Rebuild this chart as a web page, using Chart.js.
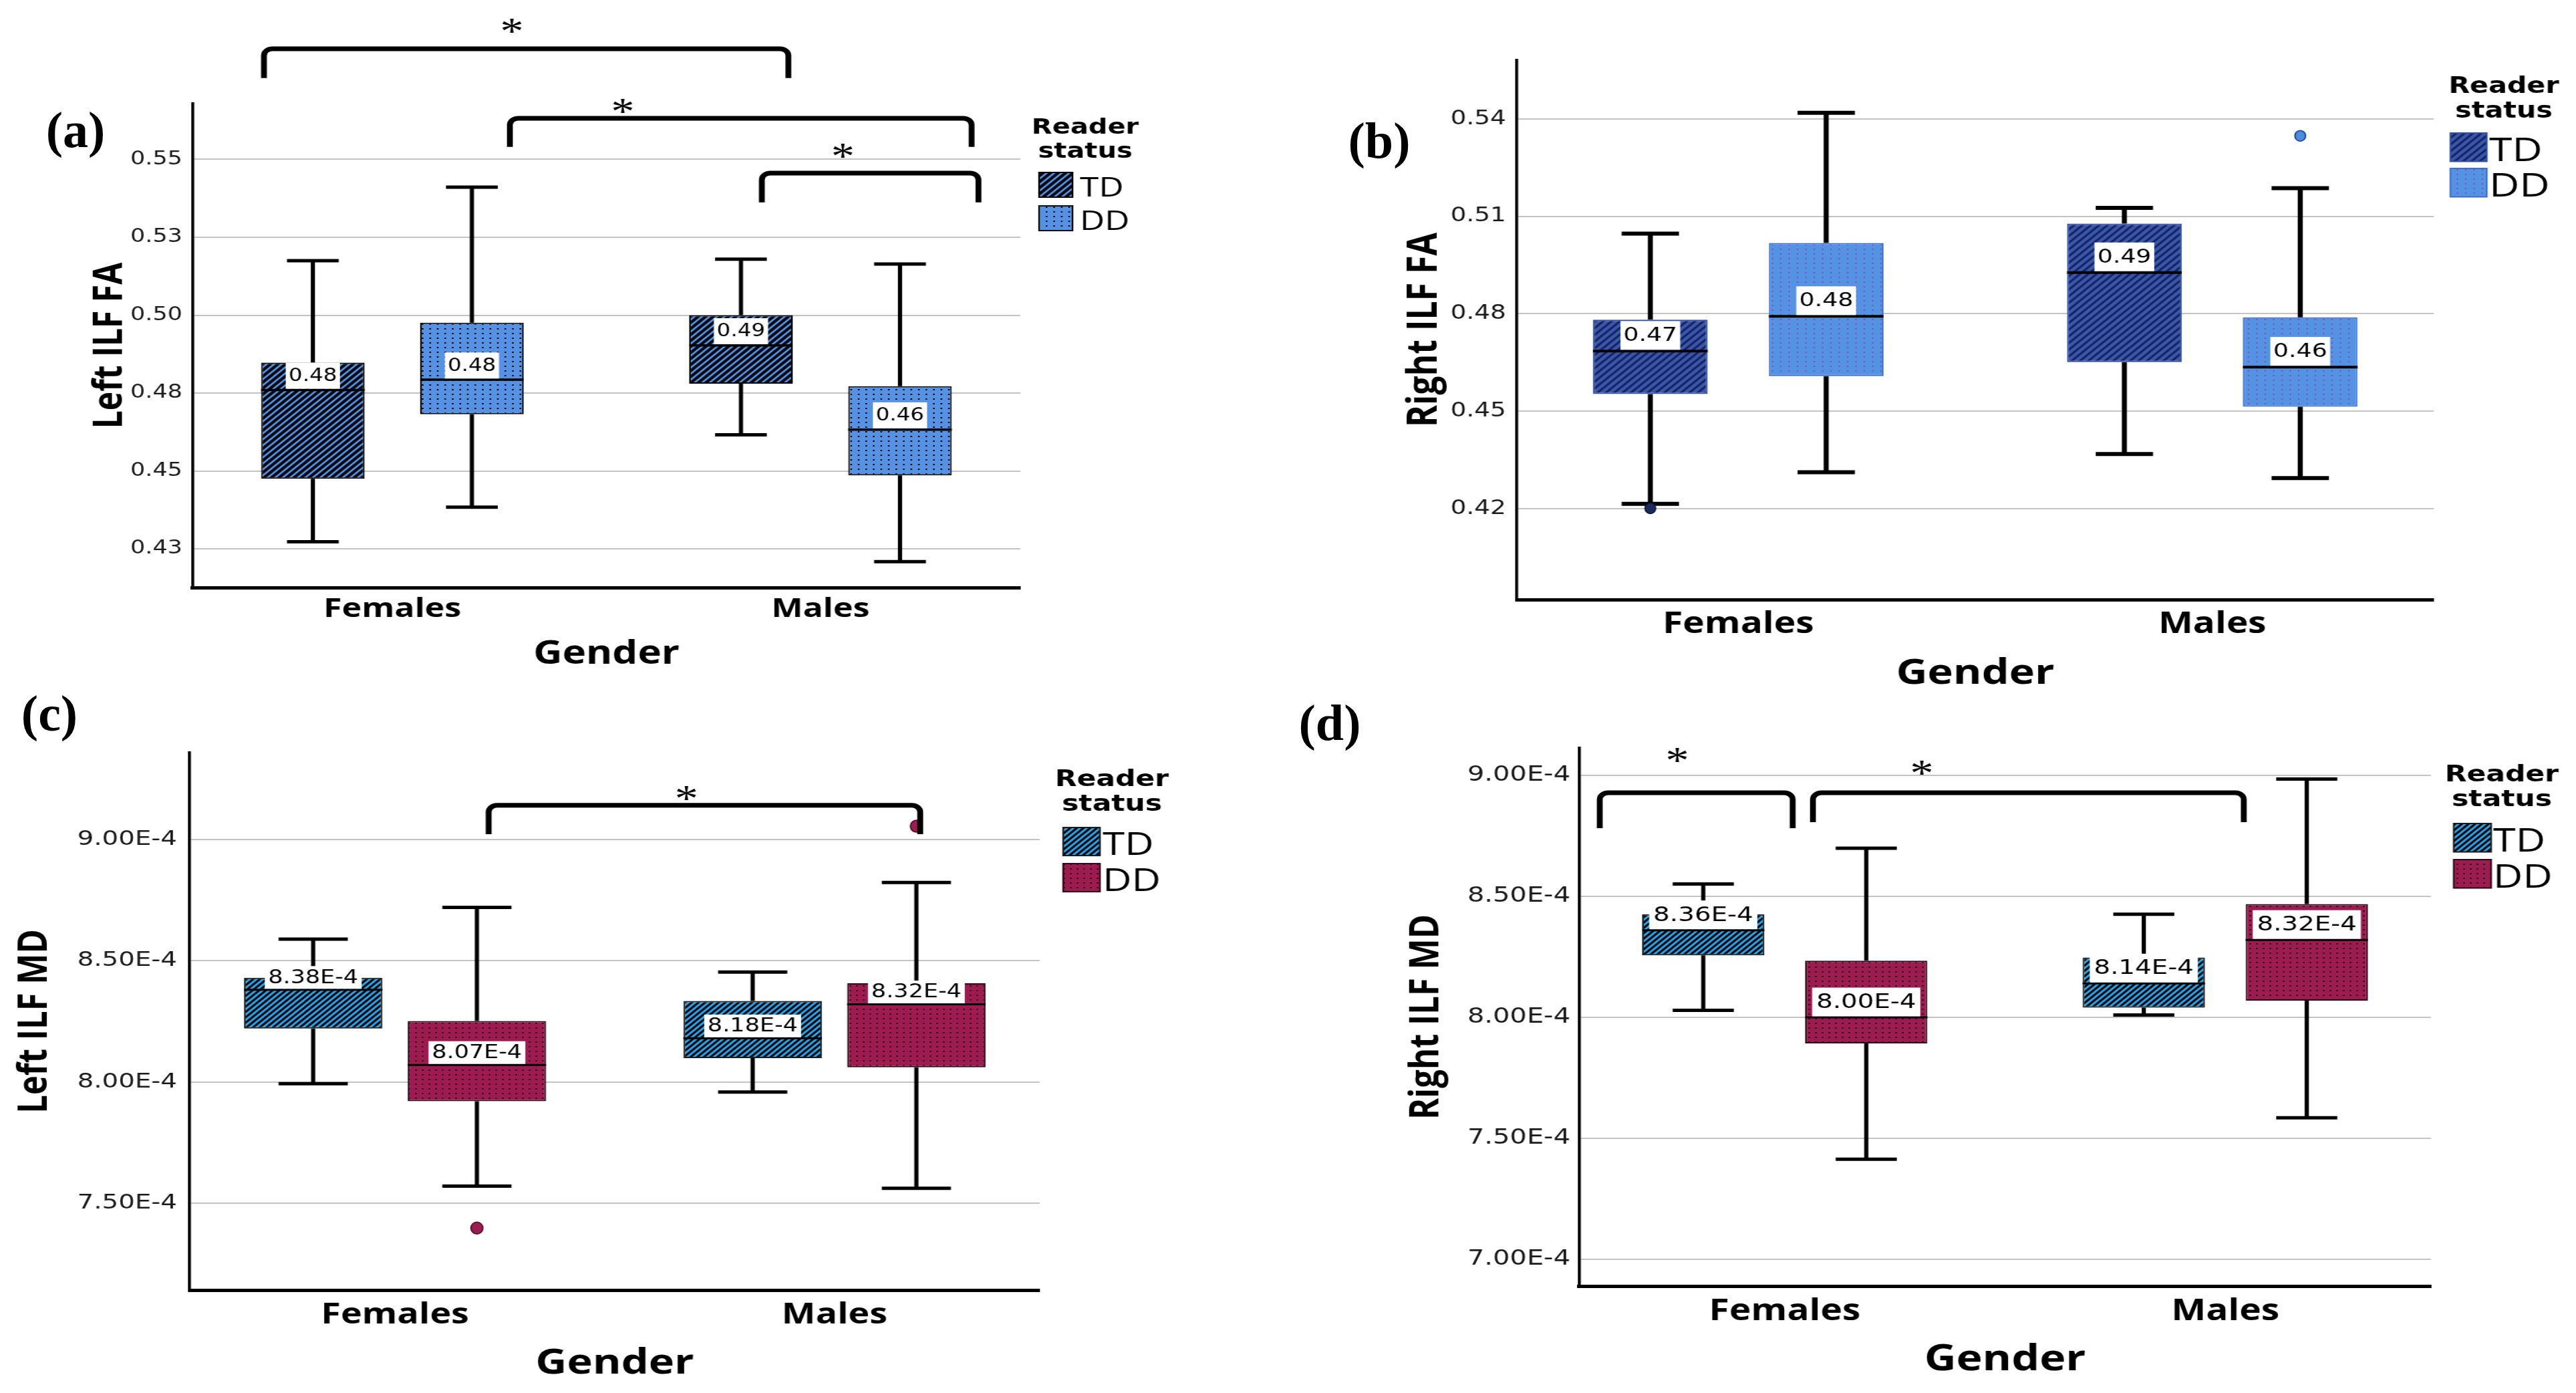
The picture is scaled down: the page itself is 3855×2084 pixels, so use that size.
<!DOCTYPE html>
<html>
<head>
<meta charset="utf-8">
<title>ILF FA and MD by gender and reader status</title>
<script src="https://cdn.jsdelivr.net/npm/chart.js@4.4.1/dist/chart.umd.min.js"></script>
<style>
  html, body { margin: 0; padding: 0; background: #fff; }
  body { position: relative; width: 3855px; height: 2084px; overflow: hidden; }
  canvas { position: absolute; transform-origin: 0 0; }
  .tag { position: absolute; font: bold 76px/76px 'Liberation Serif', 'DejaVu Serif', serif; color: #000; transform: translateX(-50%); white-space: nowrap; }
</style>
</head>
<body>
<canvas id="chartA"></canvas>
<canvas id="chartB"></canvas>
<canvas id="chartC"></canvas>
<canvas id="chartD"></canvas>
<div class="tag" style="left:113px;top:156px">(a)</div>
<div class="tag" style="left:2064px;top:172px">(b)</div>
<div class="tag" style="left:74px;top:1029px">(c)</div>
<div class="tag" style="left:1990px;top:1043px">(d)</div>
<script>
// ---- data ----
const genders = ['Females', 'Males'];
const readerStatus = ['TD', 'DD'];
const legendTitle = ['Reader', 'status'];

// box stats per gender: [lower whisker, Q1, median, Q3, upper whisker]
const leftFaTD = [[0.4273, 0.4475, 0.4760, 0.4848, 0.5175], [0.4616, 0.4780, 0.4903, 0.5000, 0.5180]];
const leftFaDD = [[0.4384, 0.4682, 0.4793, 0.4976, 0.5411], [0.4209, 0.4486, 0.4633, 0.4772, 0.5164]];
const leftFaOutTD = [[], []];
const leftFaOutDD = [[], []];
const leftFaTicks = [0.425, 0.45, 0.475, 0.5, 0.525, 0.55];
const leftFaTickLabels = ['0.43', '0.45', '0.48', '0.50', '0.53', '0.55'];

const rightFaTD = [[0.4215, 0.4553, 0.4685, 0.4782, 0.5047], [0.4368, 0.4651, 0.4927, 0.5078, 0.5126]];
const rightFaDD = [[0.4312, 0.4608, 0.4792, 0.5018, 0.5419], [0.4294, 0.4514, 0.4636, 0.4789, 0.5187]];
const rightFaOutTD = [[0.4201], []];
const rightFaOutDD = [[], [0.5348]];
const rightFaTicks = [0.42, 0.45, 0.48, 0.51, 0.54];
const rightFaTickLabels = ['0.42', '0.45', '0.48', '0.51', '0.54'];

const leftMdTD = [[7.993e-4, 8.220e-4, 8.38e-4, 8.430e-4, 8.589e-4], [7.958e-4, 8.098e-4, 8.18e-4, 8.334e-4, 8.453e-4]];
const leftMdDD = [[7.570e-4, 7.920e-4, 8.07e-4, 8.251e-4, 8.720e-4], [7.561e-4, 8.060e-4, 8.32e-4, 8.407e-4, 8.823e-4]];
const leftMdOutTD = [[], []];
const leftMdOutDD = [[7.397e-4], [9.055e-4]];
const leftMdTicks = [7.5e-4, 8.0e-4, 8.5e-4, 9.0e-4];
const leftMdTickLabels = ['7.50E-4', '8.00E-4', '8.50E-4', '9.00E-4'];

const rightMdTD = [[8.029e-4, 8.256e-4, 8.36e-4, 8.426e-4, 8.551e-4], [8.010e-4, 8.040e-4, 8.14e-4, 8.247e-4, 8.426e-4]];
const rightMdDD = [[7.414e-4, 7.892e-4, 8.00e-4, 8.234e-4, 8.699e-4], [7.585e-4, 8.069e-4, 8.32e-4, 8.468e-4, 8.985e-4]];
const rightMdOutTD = [[], []];
const rightMdOutDD = [[], []];
const rightMdTicks = [7.0e-4, 7.5e-4, 8.0e-4, 8.5e-4, 9.0e-4];
const rightMdTickLabels = ['7.00E-4', '7.50E-4', '8.00E-4', '8.50E-4', '9.00E-4'];

// the pasted SPSS charts are stretched sideways in the figure
const STRETCH = 1.25;
// SPSS puts the two clusters at ~24% and ~76% of the axis instead of 25/75
const CAT_START = -0.467;
const CAT_RANGE = 1.934;

const BOLD = "'Open Sans', 'DejaVu Sans', sans-serif";
const PLAIN = "'DejaVu Sans', 'Open Sans', sans-serif";

const fmtFa = v => v.toFixed(2);
const fmtMd = v => v.toExponential(2).toUpperCase();

function stripePattern(ctx, bg, fg, size, width) {
  const c = document.createElement('canvas');
  c.width = size; c.height = size;
  const g = c.getContext('2d');
  g.fillStyle = bg;
  g.fillRect(0, 0, size, size);
  g.strokeStyle = fg;
  g.lineWidth = width;
  g.beginPath();
  g.moveTo(0, size); g.lineTo(size, 0);
  g.moveTo(-size / 2, size / 2); g.lineTo(size / 2, -size / 2);
  g.moveTo(size / 2, size * 1.5); g.lineTo(size * 1.5, size / 2);
  g.stroke();
  return ctx.createPattern(c, 'repeat');
}

function dotPattern(ctx, bg, fg, w, h, d) {
  const c = document.createElement('canvas');
  c.width = w; c.height = h;
  const g = c.getContext('2d');
  g.fillStyle = bg;
  g.fillRect(0, 0, w, h);
  g.fillStyle = fg;
  g.fillRect(1, 1, d, d);
  return ctx.createPattern(c, 'repeat');
}

// whiskers, medians, outliers, median labels, significance brackets and legend
function boxExtras(p) {
  const s = STRETCH;
  const px = X => (X - p.box.left) / s;   // page x -> canvas x
  const py = Y => Y - p.box.top;          // page y -> canvas y
  return {
    id: 'boxExtras',
    beforeDatasetsDraw(chart) {
      const { ctx } = chart;
      const ys = chart.scales.y;
      ctx.save();
      ctx.strokeStyle = '#000';
      ctx.lineWidth = p.whiskerWidth;
      chart.data.datasets.forEach((ds, i) => {
        chart.getDatasetMeta(i).data.forEach((bar, j) => {
          const st = ds.stats[j];
          const cap = bar.width / 4;
          const yMin = ys.getPixelForValue(st[0]);
          const yQ1 = ys.getPixelForValue(st[1]);
          const yQ3 = ys.getPixelForValue(st[3]);
          const yMax = ys.getPixelForValue(st[4]);
          ctx.beginPath();
          ctx.moveTo(bar.x, yQ3); ctx.lineTo(bar.x, yMax);
          ctx.moveTo(bar.x, yQ1); ctx.lineTo(bar.x, yMin);
          ctx.moveTo(bar.x - cap, yMax); ctx.lineTo(bar.x + cap, yMax);
          ctx.moveTo(bar.x - cap, yMin); ctx.lineTo(bar.x + cap, yMin);
          ctx.stroke();
        });
      });
      ctx.restore();
    },
    afterDatasetsDraw(chart) {
      const { ctx } = chart;
      const xs = chart.scales.x;
      const ys = chart.scales.y;
      ctx.save();
      chart.data.datasets.forEach((ds, i) => {
        chart.getDatasetMeta(i).data.forEach((bar, j) => {
          const yMed = ys.getPixelForValue(ds.stats[j][2]);
          ctx.strokeStyle = '#000';
          ctx.lineWidth = p.medianWidth;
          ctx.beginPath();
          ctx.moveTo(bar.x - bar.width / 2, yMed);
          ctx.lineTo(bar.x + bar.width / 2, yMed);
          ctx.stroke();
          ds.outliers[j].forEach(v => {
            ctx.beginPath();
            ctx.ellipse(bar.x, ys.getPixelForValue(v), p.outlierR / s, p.outlierR, 0, 0, Math.PI * 2);
            ctx.fillStyle = ds.outlierColor;
            ctx.fill();
            ctx.lineWidth = 1.5;
            ctx.strokeStyle = ds.outlierBorder;
            ctx.stroke();
          });
        });
      });

      // white median labels sitting on the median line
      ctx.font = `${p.labelFont}px ${PLAIN}`;
      ctx.textAlign = 'center';
      ctx.textBaseline = 'middle';
      chart.data.datasets.forEach((ds, i) => {
        chart.getDatasetMeta(i).data.forEach((bar, j) => {
          const med = ds.stats[j][2];
          const text = p.fmt(med);
          const yBottom = ys.getPixelForValue(med) - p.medianWidth / 2;
          const w = ctx.measureText(text).width + 2 * p.labelPadX;
          ctx.fillStyle = '#fff';
          ctx.fillRect(bar.x - w / 2, yBottom - p.labelH, w, p.labelH);
          ctx.fillStyle = '#000';
          ctx.fillText(text, bar.x, yBottom - p.labelH / 2 + 1);
        });
      });

      // significance brackets
      ctx.strokeStyle = '#000';
      ctx.lineWidth = 7;
      ctx.lineJoin = 'round';
      p.brackets.forEach(b => {
        const x1 = xs.getPixelForValue(b.from);
        const x2 = xs.getPixelForValue(b.to);
        const yT = ys.getPixelForValue(b.top);
        const yR = ys.getPixelForValue(b.rightEnd);
        ctx.beginPath();
        ctx.moveTo(x1, ys.getPixelForValue(b.leftEnd));
        ctx.arcTo(x1, yT, x2, yT, 10);
        ctx.arcTo(x2, yT, x2, yR, 10);
        ctx.lineTo(x2, yR);
        ctx.stroke();
      });
      ctx.fillStyle = '#000';
      ctx.font = "56px 'Liberation Serif', 'DejaVu Serif', serif";
      ctx.textAlign = 'center';
      ctx.textBaseline = 'alphabetic';
      p.stars.forEach(st => {
        ctx.fillText('*', xs.getPixelForValue(st.x), ys.getPixelForValue(st.y) + 0.47 * 56);
      });
      ctx.restore();
    },
    afterDraw(chart) {
      // "Reader status" legend, drawn with the datasets' own fills
      const { ctx } = chart;
      const lg = p.legend;
      ctx.save();
      ctx.fillStyle = '#000';
      ctx.textAlign = 'center';
      ctx.textBaseline = 'alphabetic';
      ctx.font = `bold ${lg.titleSize}px ${PLAIN}`;
      legendTitle.forEach((line, k) => ctx.fillText(line, px(lg.titleX), py(lg.titleBase[k])));
      ctx.textAlign = 'left';
      ctx.font = `${lg.textSize}px ${BOLD}`;
      chart.data.datasets.forEach((ds, i) => {
        const x = px(lg.boxLeft);
        const y = py(lg.boxTops[i]);
        const w = lg.boxW / s;
        ctx.fillStyle = ds.backgroundColor;
        ctx.fillRect(x, y, w, lg.boxH);
        ctx.lineWidth = 2;
        ctx.strokeStyle = ds.borderColor;
        ctx.strokeRect(x, y, w, lg.boxH);
        ctx.fillStyle = '#000';
        ctx.fillText(ds.label, px(lg.textX), y + lg.boxH / 2 + 3 + 0.357 * lg.textSize);
      });
      ctx.restore();
    }
  };
}

function buildPanel(p) {
  const s = STRETCH;
  const canvas = document.getElementById(p.id);
  const ctx = canvas.getContext('2d');
  const wCu = Math.round((p.box.right - p.box.left) / s);
  const hCu = p.box.bottom - p.box.top;
  canvas.width = wCu;
  canvas.height = hCu;
  canvas.style.left = p.box.left + 'px';
  canvas.style.top = p.box.top + 'px';
  canvas.style.transform = `scaleX(${s})`;

  const yAxisW = (p.area.left - p.box.left) / s;
  const xAxisH = p.box.bottom - p.area.bottom;
  const yTitlePad = (p.yTitleX - p.box.left) / s - p.yTitleSize * 0.6;
  const xTickPad = p.xTickCapTop - p.area.bottom - 0.17 * p.xTickSize;
  const xTitlePad = p.box.bottom - p.xTitleY - p.xTitleSize * 0.6;
  const padRight = wCu - (p.area.right - p.box.left) / s;

  const tdFill = p.tdPattern(ctx);
  const ddFill = p.ddPattern(ctx);

  const series = [
    { label: readerStatus[0], stats: p.td, outliers: p.tdOut, fill: tdFill, border: p.tdBorder, outlierColor: p.tdOutlier, outlierBorder: p.tdOutlierBorder },
    { label: readerStatus[1], stats: p.dd, outliers: p.ddOut, fill: ddFill, border: p.ddBorder, outlierColor: p.ddOutlier, outlierBorder: p.ddOutlierBorder }
  ];

  new Chart(canvas, {
    type: 'bar',
    data: {
      labels: genders,
      datasets: series.map(d => ({
        label: d.label,
        data: d.stats.map(st => [st[1], st[3]]),
        stats: d.stats,
        outliers: d.outliers,
        outlierColor: d.outlierColor,
        outlierBorder: d.outlierBorder,
        backgroundColor: d.fill,
        borderColor: d.border,
        borderWidth: 2,
        borderSkipped: false,
        categoryPercentage: p.catPct,
        barPercentage: p.barPct
      }))
    },
    options: {
      responsive: false,
      animation: false,
      devicePixelRatio: 1,
      events: [],
      layout: { padding: { top: p.area.top - p.box.top, right: padRight, bottom: 0, left: 0 } },
      scales: {
        x: {
          type: 'category',
          offset: true,
          afterBuildTicks: scale => {
            scale._startValue = CAT_START;
            scale._valueRange = CAT_RANGE;
          },
          afterFit: scale => { scale.height = xAxisH; },
          grid: { display: false, drawTicks: false },
          border: { display: true, color: '#000', width: 5 },
          ticks: { padding: xTickPad, color: '#000', font: { family: BOLD, weight: 'bold', size: p.xTickSize } },
          title: {
            display: true, text: 'Gender', color: '#000',
            font: { family: BOLD, weight: 'bold', size: p.xTitleSize },
            padding: { top: 0, bottom: xTitlePad }
          }
        },
        y: {
          type: 'linear',
          min: p.yMin,
          max: p.yMax,
          afterBuildTicks: scale => { scale.ticks = p.ticks.map(v => ({ value: v })); },
          afterFit: scale => { scale.width = yAxisW; },
          grid: { color: '#c4c4c4', lineWidth: 2, drawTicks: false },
          border: { display: true, color: '#000', width: 3.5 },
          ticks: {
            autoSkip: false,
            padding: p.tickGap / s,
            color: '#1a1a1a',
            font: { family: PLAIN, size: p.tickSize },
            callback: (v, i) => p.tickLabels[i]
          },
          title: {
            display: true, text: p.yTitle, color: '#000',
            font: { family: BOLD, weight: 'bold', size: p.yTitleSize },
            padding: { top: yTitlePad, bottom: 0 }
          }
        }
      },
      plugins: {
        tooltip: { enabled: false },
        legend: { display: false }
      }
    },
    plugins: [boxExtras(p)]
  });
}

// ---- panels (positions in page pixels) ----
const panels = [
  {
    id: 'chartA',
    box: { left: 90, top: 0, right: 1720, bottom: 1035 },
    area: { left: 288, right: 1527, top: 155, bottom: 879 },
    yMin: 0.4126, yMax: 0.5679,
    td: leftFaTD, dd: leftFaDD, tdOut: leftFaOutTD, ddOut: leftFaOutDD,
    ticks: leftFaTicks, tickLabels: leftFaTickLabels,
    yTitle: 'Left ILF FA', yTitleSize: 48, yTitleX: 166,
    tickSize: 28, tickGap: 15,
    xTickSize: 40, xTickCapTop: 894,
    xTitleSize: 48, xTitleY: 979,
    catPct: 0.743, barPct: 0.651,
    tdPattern: c => stripePattern(c, '#06070d', '#5592e4', 9, 2.6),
    ddPattern: c => dotPattern(c, '#5592e3', '#000', 9, 7, 2),
    tdBorder: '#000', ddBorder: '#111',
    tdOutlier: '#0d1b3a', tdOutlierBorder: '#000', ddOutlier: '#5592e3', ddOutlierBorder: '#1d3c7a',
    whiskerWidth: 5, medianWidth: 3.5, outlierR: 8,
    labelFont: 26, labelPadX: 3.5, labelH: 39, fmt: fmtFa,
    legend: { titleSize: 32, titleX: 1624, titleBase: [200, 236], boxLeft: 1555, boxW: 50, boxH: 37, boxTops: [258, 308], textX: 1616, textSize: 41 },
    brackets: [
      { from: -0.300, to: 0.925, top: 0.5855, leftEnd: 0.5761, rightEnd: 0.5761 },
      { from: 0.2745, to: 1.353, top: 0.5632, leftEnd: 0.5540, rightEnd: 0.5540 },
      { from: 0.863, to: 1.369, top: 0.5456, leftEnd: 0.5362, rightEnd: 0.5362 }
    ],
    stars: [{ x: 0.279, y: 0.5926 }, { x: 0.538, y: 0.5668 }, { x: 1.052, y: 0.5525 }]
  },
  {
    id: 'chartB',
    box: { left: 2075, top: 0, right: 3852, bottom: 1055 },
    area: { left: 2270, right: 3642, top: 90, bottom: 897 },
    yMin: 0.392, yMax: 0.5581,
    td: rightFaTD, dd: rightFaDD, tdOut: rightFaOutTD, ddOut: rightFaOutDD,
    ticks: rightFaTicks, tickLabels: rightFaTickLabels,
    yTitle: 'Right ILF FA', yTitleSize: 50, yTitleX: 2132,
    tickSize: 30, tickGap: 16,
    xTickSize: 44, xTickCapTop: 916,
    xTitleSize: 52, xTitleY: 1008,
    catPct: 0.742, barPct: 0.652,
    tdPattern: c => stripePattern(c, '#3c57a6', '#12246a', 10, 3),
    ddPattern: c => dotPattern(c, '#5592e3', '#6a5fb5', 10, 7, 2),
    tdBorder: '#34509e', ddBorder: '#3d6fcf',
    tdOutlier: '#1c2a5c', tdOutlierBorder: '#0b1230', ddOutlier: '#4a8de0', ddOutlierBorder: '#1c3a80',
    whiskerWidth: 6, medianWidth: 4, outlierR: 8,
    labelFont: 29, labelPadX: 3.5, labelH: 43, fmt: fmtFa,
    legend: { titleSize: 33, titleX: 3747, titleBase: [139, 175.5], boxLeft: 3667, boxW: 54.5, boxH: 42.5, boxTops: [199, 252], textX: 3725, textSize: 50 },
    brackets: [],
    stars: []
  },
  {
    id: 'chartC',
    box: { left: 0, top: 1060, right: 1765, bottom: 2084 },
    area: { left: 284, right: 1556, top: 1126, bottom: 1930 },
    yMin: 7.1412e-4, yMax: 9.3585e-4,
    td: leftMdTD, dd: leftMdDD, tdOut: leftMdOutTD, ddOut: leftMdOutDD,
    ticks: leftMdTicks, tickLabels: leftMdTickLabels,
    yTitle: 'Left ILF MD', yTitleSize: 49, yTitleX: 53,
    tickSize: 31, tickGap: 19,
    xTickSize: 43, xTickCapTop: 1949,
    xTitleSize: 52, xTitleY: 2040,
    catPct: 0.745, barPct: 0.845,
    tdPattern: c => stripePattern(c, '#040608', '#2ba4ea', 8, 2.8),
    ddPattern: c => dotPattern(c, '#9c1b50', '#2a0612', 8, 7, 2),
    tdBorder: '#1a1a1a', ddBorder: '#2a0a16',
    tdOutlier: '#2ba4ea', tdOutlierBorder: '#000', ddOutlier: '#9c1b50', ddOutlierBorder: '#4a0a22',
    whiskerWidth: 5, medianWidth: 3, outlierR: 9,
    labelFont: 28, labelPadX: 4, labelH: 34, fmt: fmtMd,
    legend: { titleSize: 34, titleX: 1664, titleBase: [1176, 1213], boxLeft: 1591, boxW: 55, boxH: 42, boxTops: [1238, 1292], textX: 1650, textSize: 48 },
    brackets: [
      { from: 0.213, to: 1.195, top: 9.141e-4, leftEnd: 9.022e-4, rightEnd: 9.022e-4 }
    ],
    stars: [{ x: 0.663, y: 9.1875e-4 }]
  },
  {
    id: 'chartD',
    box: { left: 2075, top: 1060, right: 3850, bottom: 2084 },
    area: { left: 2363, right: 3638, top: 1119, bottom: 1924 },
    yMin: 6.8895e-4, yMax: 9.1133e-4,
    td: rightMdTD, dd: rightMdDD, tdOut: rightMdOutTD, ddOut: rightMdOutDD,
    ticks: rightMdTicks, tickLabels: rightMdTickLabels,
    yTitle: 'Right ILF MD', yTitleSize: 49, yTitleX: 2135,
    tickSize: 32, tickGap: 13,
    xTickSize: 44, xTickCapTop: 1944,
    xTitleSize: 53, xTitleY: 2035,
    catPct: 0.740, barPct: 0.75,
    tdPattern: c => stripePattern(c, '#040608', '#2ba4ea', 8, 2.8),
    ddPattern: c => dotPattern(c, '#9c1b50', '#2a0612', 8, 7, 2),
    tdBorder: '#1a1a1a', ddBorder: '#2a0a16',
    tdOutlier: '#2ba4ea', tdOutlierBorder: '#000', ddOutlier: '#9c1b50', ddOutlierBorder: '#4a0a22',
    whiskerWidth: 5, medianWidth: 3, outlierR: 9,
    labelFont: 31, labelPadX: 5, labelH: 43, fmt: fmtMd,
    legend: { titleSize: 34, titleX: 3744, titleBase: [1169, 1206], boxLeft: 3672, boxW: 56, boxH: 42.5, boxTops: [1232, 1286], textX: 3731, textSize: 49 },
    brackets: [
      { from: -0.420, to: 0.018, top: 8.928e-4, leftEnd: 8.782e-4, rightEnd: 8.782e-4 },
      { from: 0.064, to: 1.042, top: 8.928e-4, leftEnd: 8.807e-4, rightEnd: 8.807e-4 }
    ],
    stars: [{ x: -0.244, y: 9.080e-4 }, { x: 0.311, y: 9.028e-4 }]
  }
];

panels.forEach(buildPanel);
</script>
</body>
</html>
